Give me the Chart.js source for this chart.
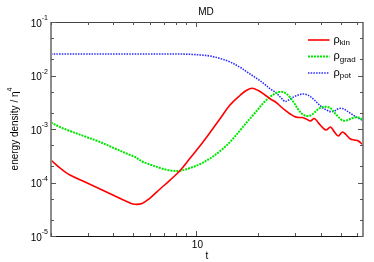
<!DOCTYPE html>
<html lang="en">
<head>
<meta charset="UTF-8">
<title>MD energy density</title>
<script src="https://cdn.jsdelivr.net/npm/chart.js"></script>
<style>
  html, body { margin: 0; padding: 0; background: #fff; }
  #wrap { width: 374px; height: 262px; }
</style>
</head>
<body>
<div id="wrap"><canvas id="mdChart"></canvas></div>
<script>
// time samples (log axis) and the three energy densities
const tValues = [2.00, 2.21, 2.47, 2.92, 3.45, 4.07, 4.81, 5.09, 5.50, 6.01, 6.72, 7.51, 8.40, 9.39,
  10.5, 11.7, 13.1, 14.6, 16.4, 17.5, 18.7, 20.0, 21.4, 22.9, 24.4, 25.8, 27.0, 28.5, 29.9, 31.2,
  32.6, 34.1, 35.7, 37.3, 39.0, 40.8, 42.6, 44.6, 46.6, 48.7, 50.9, 53.2, 55.6, 58.2, 60.8, 64.0];
const rhoKin = [2.63e-4, 1.87e-4, 1.38e-4, 1.02e-4, 7.56e-5, 5.59e-5, 4.14e-5, 3.91e-5, 4.05e-5, 5.13e-5,
  7.56e-5, 1.11e-4, 1.68e-4, 2.87e-4, 4.92e-4, 8.60e-4, 1.57e-3, 2.81e-3, 4.32e-3, 5.24e-3, 5.76e-3,
  5.24e-3, 4.42e-3, 3.64e-3, 3.13e-3, 2.58e-3, 2.22e-3, 1.91e-3, 1.71e-3, 1.64e-3, 1.64e-3, 1.54e-3,
  1.41e-3, 1.57e-3, 1.30e-3, 1.07e-3, 9.58e-4, 1.09e-3, 8.79e-4, 7.40e-4, 8.79e-4, 7.73e-4, 6.50e-4,
  6.23e-4, 5.97e-4, 5.02e-4];
const rhoGrad = [1.32e-3, 1.09e-3, 9.18e-4, 7.24e-4, 5.71e-4, 4.32e-4, 3.27e-4, 3.00e-4, 2.47e-4, 2.17e-4,
  1.87e-4, 1.68e-4, 1.66e-4, 1.87e-4, 2.22e-4, 2.81e-4, 3.88e-4, 5.71e-4, 9.58e-4, 1.30e-3, 1.75e-3,
  2.36e-3, 3.20e-3, 4.05e-3, 4.71e-3, 4.98e-3, 4.71e-3, 3.88e-3, 3.00e-3, 2.31e-3, 1.91e-3, 1.75e-3,
  1.79e-3, 2.03e-3, 2.36e-3, 2.58e-3, 2.60e-3, 2.47e-3, 2.03e-3, 1.68e-3, 1.45e-3, 1.44e-3, 1.54e-3,
  1.64e-3, 1.64e-3, 1.47e-3];
const rhoPot = [2.52e-2, 2.52e-2, 2.52e-2, 2.52e-2, 2.52e-2, 2.52e-2, 2.52e-2, 2.52e-2, 2.52e-2, 2.52e-2,
  2.52e-2, 2.52e-2, 2.52e-2, 2.49e-2, 2.42e-2, 2.31e-2, 2.08e-2, 1.79e-2, 1.41e-2, 1.19e-2, 1.00e-2,
  8.42e-3, 6.94e-3, 5.59e-3, 4.71e-3, 3.80e-3, 3.27e-3, 3.64e-3, 4.05e-3, 4.32e-3, 4.51e-3, 4.42e-3,
  4.02e-3, 3.48e-3, 2.93e-3, 2.52e-3, 2.27e-3, 2.11e-3, 2.17e-3, 2.39e-3, 2.42e-3, 2.22e-3, 1.97e-3,
  1.75e-3, 1.59e-3, 1.44e-3];

const yDecades = [1e-5, 1e-4, 1e-3, 1e-2, 1e-1];
const yExponents = ['-5', '-4', '-3', '-2', '-1'];
const xMajorTicks = [10];
const xMinorTicks = [2, 3, 4, 5, 6, 7, 8, 9, 20, 30, 40, 50, 60];
const legendNames = [['ρ', 'kin'], ['ρ', 'grad'], ['ρ', 'pot']];

const FONT = '"Liberation Sans", Arial, Helvetica, sans-serif';

function pts(vals) {
    return tValues.map((t, i) => ({ x: t, y: vals[i] }));
}

const datasets = [
    { label: 'kin', data: pts(rhoKin), borderColor: '#ff0000', borderWidth: 1.6, borderDash: [] },
    { label: 'grad', data: pts(rhoGrad), borderColor: '#00e800', borderWidth: 2, borderDash: [2, 1] },
    { label: 'pot', data: pts(rhoPot), borderColor: '#2a2aff', borderWidth: 1.6, borderDash: [1.5, 1.2] }
].map(d => Object.assign(d, { pointRadius: 0, fill: false, tension: 0.35 }));

// draws text with a raised (sup) or lowered (sub) part, returns nothing
function drawScript(ctx, x, y, main, extra, mainSize, extraSize, shift, align) {
    ctx.font = mainSize + 'px ' + FONT;
    const w1 = ctx.measureText(main).width;
    ctx.font = extraSize + 'px ' + FONT;
    const w2 = ctx.measureText(extra).width;
    let x0 = x;
    if (align === 'right') x0 = x - w1 - w2;
    if (align === 'center') x0 = x - (w1 + w2) / 2;
    ctx.textAlign = 'left';
    ctx.font = mainSize + 'px ' + FONT;
    ctx.fillText(main, x0, y);
    ctx.font = extraSize + 'px ' + FONT;
    ctx.fillText(extra, x0 + w1, y + shift);
}

const framePlugin = {
    id: 'frame',
    afterDraw(chart) {
        const { ctx, chartArea: { left, right, top, bottom }, scales: { x, y } } = chart;
        ctx.save();
        ctx.fillStyle = '#000';
        ctx.textBaseline = 'alphabetic';

        // frame
        ctx.lineWidth = 1;
        ctx.strokeStyle = '#444';
        ctx.beginPath(); ctx.moveTo(left, top + 0.5); ctx.lineTo(right, top + 0.5); ctx.stroke();
        ctx.strokeStyle = '#111';
        ctx.beginPath(); ctx.moveTo(left, bottom + 0.5); ctx.lineTo(right, bottom + 0.5); ctx.stroke();
        ctx.strokeStyle = '#8a8a8a';
        ctx.lineWidth = 2;
        ctx.beginPath(); ctx.moveTo(left, top); ctx.lineTo(left, bottom + 1); ctx.stroke();
        ctx.beginPath(); ctx.moveTo(right, top); ctx.lineTo(right, bottom + 1); ctx.stroke();

        // ticks
        ctx.lineWidth = 1;
        ctx.strokeStyle = '#555';
        const yMinor = [];
        yDecades.forEach(d => { [2, 5].forEach(m => { if (d * m < 0.1) yMinor.push(d * m); }); });
        ctx.beginPath();
        yDecades.forEach(v => {
            const py = Math.round(y.getPixelForValue(v)) + 0.5;
            ctx.moveTo(left, py); ctx.lineTo(left + 5, py);
            ctx.moveTo(right, py); ctx.lineTo(right - 5, py);
        });
        yMinor.forEach(v => {
            const py = Math.round(y.getPixelForValue(v)) + 0.5;
            ctx.moveTo(left, py); ctx.lineTo(left + 3, py);
            ctx.moveTo(right, py); ctx.lineTo(right - 3, py);
        });
        xMajorTicks.forEach(v => {
            const px = Math.round(x.getPixelForValue(v)) + 0.5;
            ctx.moveTo(px, bottom); ctx.lineTo(px, bottom - 5);
            ctx.moveTo(px, top); ctx.lineTo(px, top + 5);
        });
        xMinorTicks.forEach(v => {
            const px = Math.round(x.getPixelForValue(v)) + 0.5;
            ctx.moveTo(px, bottom); ctx.lineTo(px, bottom - 3);
            ctx.moveTo(px, top); ctx.lineTo(px, top + 3);
        });
        ctx.stroke();

        // y tick labels 10^n
        yDecades.forEach((v, i) => {
            const py = y.getPixelForValue(v);
            drawScript(ctx, 48, py + 4.5, '10', yExponents[i], 10, 7, -6.5, 'right');
        });
        // x tick labels
        ctx.font = '10px ' + FONT;
        ctx.textAlign = 'center';
        xMajorTicks.forEach(v => {
            ctx.fillText(String(v), x.getPixelForValue(v) + 1.5, bottom + 11.5);
        });

        // title and axis titles
        ctx.fillText('MD', (left + right) / 2 - 1, 15);
        ctx.fillText('t', (left + right) / 2, 259);
        ctx.save();
        ctx.translate(18, (top + bottom) / 2);
        ctx.rotate(-Math.PI / 2);
        drawScript(ctx, 0, 0, 'energy density / η', '4', 10, 7, -6, 'center');
        ctx.restore();

        // legend
        const rows = [40, 56.5, 73];
        datasets.forEach((d, i) => {
            const ly = rows[i];
            ctx.save();
            ctx.strokeStyle = d.borderColor;
            ctx.lineWidth = d.borderWidth;
            ctx.setLineDash(d.borderDash);
            ctx.beginPath(); ctx.moveTo(308, ly); ctx.lineTo(329.5, ly); ctx.stroke();
            ctx.restore();
            ctx.fillStyle = '#000';
            drawScript(ctx, 333.5, ly + 2.5, legendNames[i][0], legendNames[i][1], 11, 8, 2.5, 'left');
        });
        ctx.restore();
    }
};

new Chart(document.getElementById('mdChart'), {
    type: 'line',
    data: { datasets: datasets },
    options: {
        responsive: true,
        maintainAspectRatio: false,
        animation: false,
        layout: { padding: { top: 22, right: 11, left: 0, bottom: 0 } },
        plugins: { legend: { display: false }, title: { display: false }, tooltip: { enabled: false } },
        scales: {
            x: {
                type: 'logarithmic', min: 2, max: 64,
                ticks: { display: false }, grid: { display: false }, border: { display: false },
                afterFit(s) { s.height = 26; }
            },
            y: {
                type: 'logarithmic', min: 1e-5, max: 1e-1,
                ticks: { display: false }, grid: { display: false }, border: { display: false },
                afterFit(s) { s.width = 51; }
            }
        }
    },
    plugins: [framePlugin]
});
</script>
</body>
</html>
